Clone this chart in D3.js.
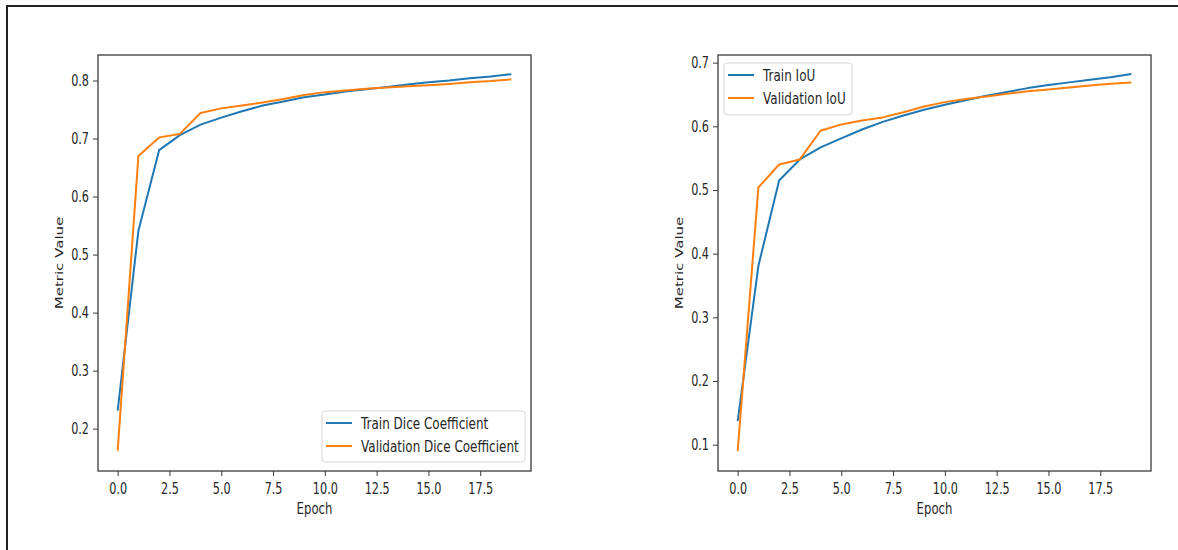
<!DOCTYPE html>
<html>
<head>
<meta charset="utf-8">
<script src="https://cdn.jsdelivr.net/npm/d3@7"></script>
<style>
    body { margin: 0; background: #fff; }
    svg { display: block; }
    text { font-family: "DejaVu Sans", sans-serif; fill: #262626; }
</style>
</head>
<body>
<div id="chart"></div>
<script>
/* -----------------    DATA     ------------------ */
const epochs = [0, 1, 2, 3, 4, 5, 6, 7, 8, 9, 10, 11, 12, 13, 14, 15, 16, 17, 18, 19];

const trainDice = [0.231, 0.541, 0.680, 0.706, 0.724, 0.736, 0.747, 0.757, 0.764, 0.771, 0.776, 0.781, 0.785, 0.789, 0.793, 0.797, 0.800, 0.804, 0.807, 0.811];
const valDice = [0.162, 0.670, 0.702, 0.708, 0.744, 0.752, 0.757, 0.762, 0.768, 0.775, 0.780, 0.783, 0.786, 0.788, 0.790, 0.792, 0.794, 0.797, 0.799, 0.802];

const trainIoU = [0.137, 0.381, 0.515, 0.548, 0.567, 0.581, 0.595, 0.607, 0.617, 0.626, 0.634, 0.641, 0.648, 0.654, 0.660, 0.665, 0.669, 0.673, 0.677, 0.682];
const valIoU = [0.090, 0.504, 0.540, 0.548, 0.593, 0.603, 0.609, 0.614, 0.622, 0.631, 0.638, 0.643, 0.647, 0.651, 0.655, 0.658, 0.661, 0.664, 0.667, 0.669];

const xTicks = [0, 2.5, 5, 7.5, 10, 12.5, 15, 17.5];
const diceTicks = [0.2, 0.3, 0.4, 0.5, 0.6, 0.7, 0.8];
const iouTicks = [0.1, 0.2, 0.3, 0.4, 0.5, 0.6, 0.7];

const diceLabels = ['Train Dice Coefficient', 'Validation Dice Coefficient'];
const iouLabels = ['Train IoU', 'Validation IoU'];

/* -----------------    SETTINGS     ------------------ */
const settings = {
    width: 1178,
    height: 550,
    fontSize: 15,
    squeeze: 0.75,      // tick labels: picture is horizontally compressed
    labelSqueeze: 0.78, // axis labels
    legendSqueeze: 0.8, // legend entries
    trainColor: '#1f77b4',
    valColor: '#ff7f0e',
    spine: '#3a3a3a'
};

const svg = d3.select('#chart')
    .append('svg')
    .attr('width', settings.width)
    .attr('height', settings.height);

// outer frame (top + left edges only visible)
svg.append('path')
    .attr('d', 'M7,550 V6 H1178')
    .attr('fill', 'none')
    .attr('stroke', '#222')
    .attr('stroke-width', 2);

function squeezedText(g, x, y, str, anchor, sx) {
    return g.append('text')
        .attr('transform', `translate(${x},${y}) scale(${sx},1)`)
        .attr('text-anchor', anchor)
        .attr('font-size', settings.fontSize)
        .text(str);
}

function drawPanel(p) {
    const { left, right, top, bottom } = p.box;

    const x = d3.scaleLinear().domain([-0.95, 19.95]).range([left, right]);
    const y = d3.scaleLinear().domain(p.yDomain).range([bottom, top]);

    const g = svg.append('g');

    // x axis
    const xAxis = d3.axisBottom(x)
        .tickValues(xTicks)
        .tickFormat(d3.format('.1f'))
        .tickSizeOuter(0)
        .tickSize(5)
        .tickPadding(7);

    const gx = g.append('g')
        .attr('transform', `translate(0,${bottom})`)
        .call(xAxis);
    gx.select('.domain').remove();
    gx.selectAll('line').attr('stroke', settings.spine);
    gx.selectAll('text')
        .attr('font-size', settings.fontSize)
        .attr('font-family', '"DejaVu Sans", sans-serif')
        .attr('fill', '#262626')
        .attr('transform', `scale(${settings.squeeze},1)`);

    // y axis
    const yAxis = d3.axisLeft(y)
        .tickValues(p.yTicks)
        .tickFormat(d3.format('.1f'))
        .tickSizeOuter(0)
        .tickSize(5);

    const gy = g.append('g')
        .attr('transform', `translate(${left},0)`)
        .call(yAxis);
    gy.select('.domain').remove();
    gy.selectAll('line').attr('stroke', settings.spine);
    gy.selectAll('text')
        .attr('x', -12)
        .attr('font-size', settings.fontSize)
        .attr('font-family', '"DejaVu Sans", sans-serif')
        .attr('fill', '#262626')
        .attr('transform', `scale(${settings.squeeze},1)`);

    // axis labels
    squeezedText(g, (left + right) / 2, 514, 'Epoch', 'middle', settings.labelSqueeze);

    g.append('text')
        .attr('transform', `translate(${left - 35},${(top + bottom) / 2}) scale(${settings.squeeze},1) rotate(-90)`)
        .attr('text-anchor', 'middle')
        .attr('font-size', settings.fontSize)
        .text('Metric Value');

    // lines
    const line = d3.line()
        .x((d, i) => x(epochs[i]))
        .y(d => y(d));

    [[p.train, settings.trainColor], [p.val, settings.valColor]].forEach(([series, color]) => {
        g.append('path')
            .datum(series)
            .attr('fill', 'none')
            .attr('stroke', color)
            .attr('stroke-width', 2)
            .attr('stroke-linejoin', 'round')
            .attr('d', line);
    });

    // spines
    g.append('rect')
        .attr('x', left)
        .attr('y', top)
        .attr('width', right - left)
        .attr('height', bottom - top)
        .attr('fill', 'none')
        .attr('stroke', settings.spine)
        .attr('stroke-width', 1.3);

    // legend
    const lg = p.legend;
    g.append('rect')
        .attr('x', lg.x)
        .attr('y', lg.y)
        .attr('width', lg.w)
        .attr('height', lg.h)
        .attr('rx', 3)
        .attr('fill', '#fff')
        .attr('fill-opacity', 0.8)
        .attr('stroke', '#d6d6d6');

    [settings.trainColor, settings.valColor].forEach((color, i) => {
        const rowY = lg.y + 12 + i * 23;
        g.append('line')
            .attr('x1', lg.x + 4)
            .attr('x2', lg.x + 30)
            .attr('y1', rowY)
            .attr('y2', rowY)
            .attr('stroke', color)
            .attr('stroke-width', 2);
        squeezedText(g, lg.x + 39, rowY + 5.5, p.labels[i], 'start', settings.legendSqueeze);
    });
}

drawPanel({
    box: { left: 98, right: 531, top: 55, bottom: 471 },
    yDomain: [0.127, 0.844],
    yTicks: diceTicks,
    train: trainDice,
    val: valDice,
    labels: diceLabels,
    legend: { x: 322, y: 411, w: 203, h: 51 }
});

drawPanel({
    box: { left: 718, right: 1151, top: 55, bottom: 471 },
    yDomain: [0.0587, 0.712],
    yTicks: iouTicks,
    train: trainIoU,
    val: valIoU,
    labels: iouLabels,
    legend: { x: 724, y: 63, w: 128, h: 52 }
});
</script>
</body>
</html>
